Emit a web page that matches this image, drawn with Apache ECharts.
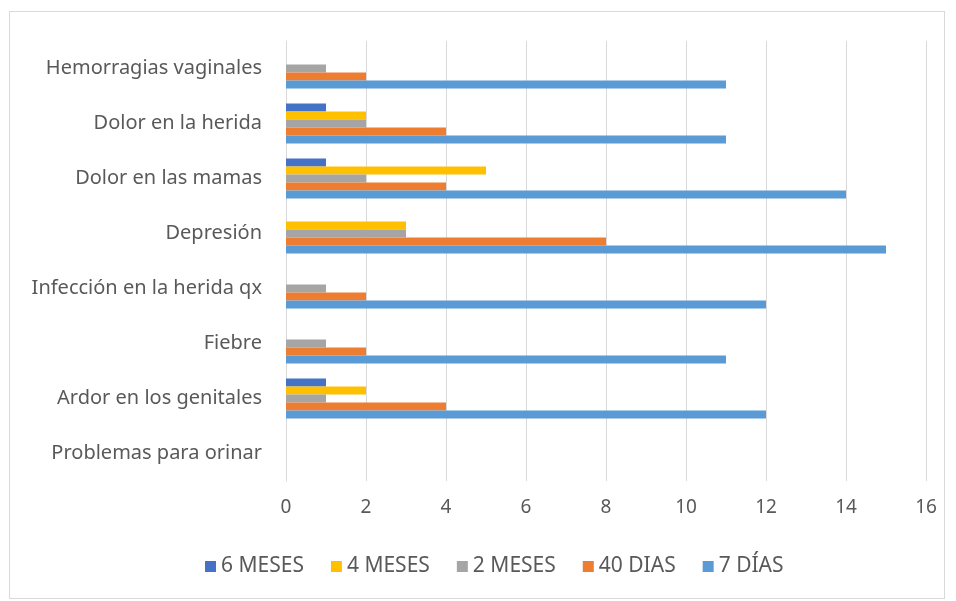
<!DOCTYPE html>
<html>
<head>
<meta charset="utf-8">
<script src="https://cdn.jsdelivr.net/npm/echarts@6/dist/echarts.min.js"></script>
<style>
  html, body { margin: 0; padding: 0; background: #fff; }
  #chart { position: absolute; left: 9px; top: 11px; width: 936px; height: 588px; border: 1px solid #d9d9d9; box-sizing: border-box; }
</style>
</head>
<body>
<div id="chart"></div>
<script>
// categorias (de abajo hacia arriba)
var categorias = ['Problemas para orinar', 'Ardor en los genitales', 'Fiebre', 'Infección en la herida qx',
  'Depresión', 'Dolor en las mamas', 'Dolor en la herida', 'Hemorragias vaginales'];

// valores por periodo
var seisMeses  = [0, 1, 0, 0, 0, 1, 1, 0];
var cuatroMeses = [0, 2, 0, 0, 3, 5, 2, 0];
var dosMeses   = [0, 1, 1, 1, 3, 2, 2, 1];
var cuarentaDias = [0, 4, 2, 2, 8, 4, 4, 2];
var sieteDias  = [0, 12, 11, 12, 15, 14, 11, 11];

var nombres = ['6 MESES', '4 MESES', '2 MESES', '40 DIAS', '7 DÍAS'];
var colores = ['#4472C4', '#FFC000', '#A5A5A5', '#ED7D31', '#5B9BD5'];
var datos = [seisMeses, cuatroMeses, dosMeses, cuarentaDias, sieteDias];

var fuente = 'Noto Sans';

var series = [];
for (var i = 0; i < nombres.length; i++) {
  series.push({
    name: nombres[i],
    type: 'bar',
    data: datos[i],
    barWidth: 8,
    barGap: '0%',
    itemStyle: { color: colores[i] }
  });
}

var myChart = echarts.init(document.getElementById('chart'));

var option = {
  backgroundColor: '#fff',
  animation: false,
  grid: {
    left: 276,
    right: 18,
    top: 29,
    bottom: 117
  },
  legend: {
    data: nombres,
    top: 539,
    left: 190,
    itemWidth: 11,
    itemHeight: 11,
    itemGap: 27,
    icon: 'rect',
    textStyle: { color: '#595959', fontSize: 21, fontFamily: fuente }
  },
  xAxis: {
    type: 'value',
    min: 0,
    max: 16,
    interval: 2,
    axisLine: { show: false },
    axisTick: { show: false },
    axisLabel: { color: '#595959', fontSize: 19, fontFamily: fuente, margin: 17 },
    splitLine: { lineStyle: { color: '#d9d9d9', width: 1 } }
  },
  yAxis: {
    type: 'category',
    data: categorias,
    axisLine: { show: true, lineStyle: { color: '#d9d9d9' } },
    axisTick: { show: false },
    axisLabel: { color: '#595959', fontSize: 20, fontFamily: fuente, margin: 24 }
  },
  series: series
};

myChart.setOption(option);
</script>
</body>
</html>
